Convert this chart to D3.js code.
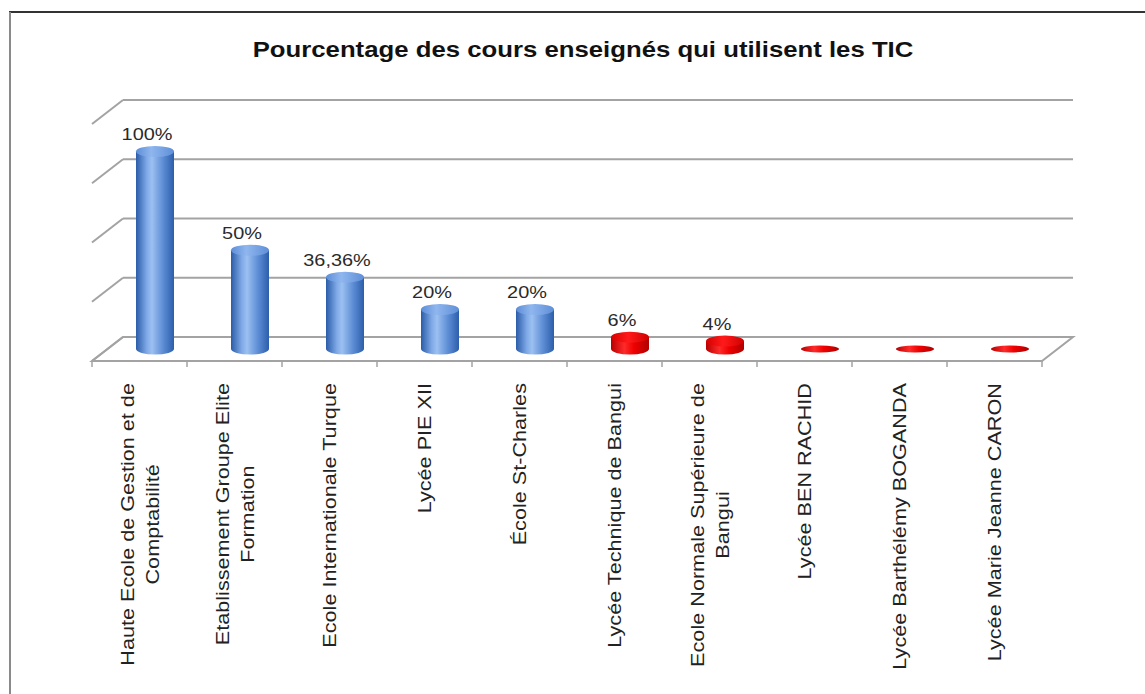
<!DOCTYPE html>
<html>
<head>
    <meta charset="utf-8">
    <title>Pourcentage des cours enseignés qui utilisent les TIC</title>
    <style>
        body{
            margin: 0;
            background: #fff;
        }
        svg{
            display: block;
        }
        text{
            font-family: "Liberation Sans", Arial, Helvetica, sans-serif;
        }
    </style>
</head>
<body>
<div id="chart"></div>

<script src="https://d3js.org/d3.v7.min.js"></script>
<script>
// data
var title = "Pourcentage des cours enseignés qui utilisent les TIC";
var categories = [
    "Haute Ecole de Gestion et de\nComptabilité",
    "Etablissement Groupe Elite\nFormation",
    "Ecole Internationale Turque",
    "Lycée PIE XII",
    "École St-Charles",
    "Lycée Technique de Bangui",
    "Ecole Normale Supérieure de\nBangui",
    "Lycée BEN RACHID",
    "Lycée Barthélémy BOGANDA",
    "Lycée Marie Jeanne CARON"
];
var values = [1, 0.5, 0.3636, 0.2, 0.2, 0.06, 0.04, 0, 0, 0];
var yTicks = [0, 0.3, 0.6, 0.9, 1.2];

var width = 1145, height = 694,
    stretch = 1.17,          // text in the picture is wider than plain Arial
    depth = {dx: 31, dy: 24}, // 3d floor depth
    redBelow = 0.1;          // small values are drawn in red

var fr = d3.formatLocale({decimal: ",", thousands: " ", grouping: [3], currency: ["", "€"]});
var pct = fr.format(".4~p");

var svg = d3.select("#chart")
    .append("svg")
    .attr("width", width)
    .attr("height", height);

// frame
svg.append("line").attr("x1", 9).attr("x2", width).attr("y1", 12).attr("y2", 12)
    .attr("stroke", "#333").attr("stroke-width", 2);
svg.append("line").attr("x1", 10).attr("x2", 10).attr("y1", 12).attr("y2", height)
    .attr("stroke", "#8a8a8a").attr("stroke-width", 2);

var x = d3.scaleBand()
    .domain(categories)
    .range([92, 1042]);

var y = d3.scaleLinear()
    .domain([0, 1.2])
    .range([337, 100]);

var bw = x.bandwidth();

// gradients
var defs = svg.append("defs");
function grad(id, stops){
    var g = defs.append("linearGradient").attr("id", id)
        .attr("x1", 0).attr("x2", 1).attr("y1", 0).attr("y2", 0);
    stops.forEach(function(s){
        g.append("stop").attr("offset", s[0]).attr("stop-color", s[1]);
    });
}
grad("blueSide", [[0, "#2b5ca8"], [0.28, "#7ea8e6"], [0.42, "#9cc0f1"], [0.7, "#5f8fd6"], [1, "#2c5eab"]]);
grad("blueTop", [[0, "#5d8ed8"], [0.4, "#8fb6ee"], [1, "#5f8fd8"]]);
grad("redSide", [[0, "#b80000"], [0.35, "#ff2a2a"], [0.6, "#f00000"], [1, "#b00000"]]);
grad("redTop", [[0, "#d80000"], [0.45, "#ff1a1a"], [1, "#d00000"]]);

// back wall gridlines and side wall
var grid = svg.append("g").attr("stroke", "#a3a3a3").attr("stroke-width", 2).attr("fill", "none");
grid.selectAll(".back")
    .data(yTicks.slice(1))
    .enter().append("line")
    .attr("x1", x.range()[0] + depth.dx)
    .attr("x2", x.range()[1] + depth.dx)
    .attr("y1", function(d){ return y(d); })
    .attr("y2", function(d){ return y(d); });
grid.selectAll(".side")
    .data(yTicks)
    .enter().append("line")
    .attr("x1", x.range()[0] + depth.dx)
    .attr("x2", x.range()[0])
    .attr("y1", function(d){ return y(d); })
    .attr("y2", function(d){ return y(d) + depth.dy; });

// floor
var x0 = x.range()[0], x1 = x.range()[1], yb = y(0);
grid.append("path")
    .attr("d", "M" + (x0 + depth.dx) + "," + yb + "L" + (x1 + depth.dx) + "," + yb +
               "L" + x1 + "," + (yb + depth.dy) + "L" + x0 + "," + (yb + depth.dy) + "Z");

// category ticks on the front edge
var tickX = categories.map(function(c){ return x(c); }).concat([x1]);
grid.selectAll(".tick")
    .data(tickX)
    .enter().append("line")
    .attr("stroke-width", 1.5)
    .attr("x1", function(d){ return d; })
    .attr("x2", function(d){ return d; })
    .attr("y1", yb + depth.dy)
    .attr("y2", yb + depth.dy + 6);

// cylinders
var rx = bw * 0.2, ry = 5.5;
var bars = svg.append("g");
categories.forEach(function(c, i){
    var v = values[i];
    var cx = x(c) + bw / 2 + depth.dx / 2;
    var base = y(0) + depth.dy / 2;
    var top = y(v) + depth.dy / 2;
    var blue = v >= redBelow;
    if (v === 0) {
        bars.append("ellipse")
            .attr("cx", cx).attr("cy", base)
            .attr("rx", rx).attr("ry", 3.5)
            .attr("fill", "url(#redSide)");
        return;
    }
    bars.append("ellipse")
        .attr("cx", cx).attr("cy", base)
        .attr("rx", rx).attr("ry", ry)
        .attr("fill", blue ? "url(#blueSide)" : "url(#redSide)");
    bars.append("rect")
        .attr("x", cx - rx).attr("y", top)
        .attr("width", rx * 2).attr("height", base - top)
        .attr("fill", blue ? "url(#blueSide)" : "url(#redSide)");
    bars.append("ellipse")
        .attr("cx", cx).attr("cy", top)
        .attr("rx", rx).attr("ry", ry)
        .attr("fill", blue ? "url(#blueTop)" : "url(#redTop)");

    // value label
    bars.append("text")
        .attr("transform", "translate(" + (cx - 8) + "," + (top - ry - 6) + ") scale(" + stretch + ",1)")
        .attr("text-anchor", "middle")
        .style("font-size", "17px")
        .style("fill", "#2a2a2a")
        .text(pct(v));
});

// category labels, rotated
var labels = svg.append("g");
categories.forEach(function(c){
    var lines = c.split("\n");
    var cx = x(c) + bw / 2;
    var texts = lines.map(function(l, i){
        return labels.append("text")
            .attr("text-anchor", "middle")
            .style("font-size", "18.5px")
            .style("fill", "#222")
            .text(l);
    });
    var maxLen = d3.max(texts, function(t){ return t.node().getComputedTextLength(); }) * stretch;
    texts.forEach(function(t, i){
        var bx = cx + (i - (lines.length - 1) / 2) * 25 + 6.5;
        var cy = 383 + maxLen / 2;
        t.attr("transform", "translate(" + bx + "," + cy + ") rotate(-90) scale(" + stretch + ",1)");
    });
});

// title
svg.append("text")
    .attr("transform", "translate(583,57) scale(" + stretch + ",1)")
    .attr("text-anchor", "middle")
    .style("font-size", "22px")
    .style("font-weight", "bold")
    .style("fill", "#111")
    .text(title);
</script>
</body>
</html>
